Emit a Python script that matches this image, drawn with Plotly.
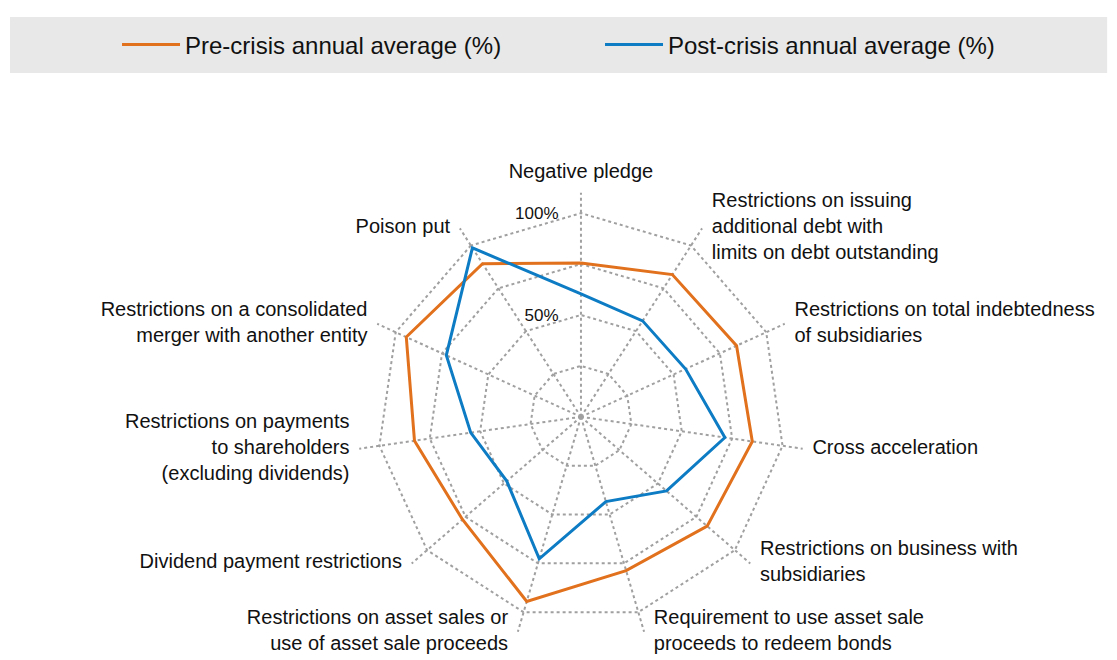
import plotly.graph_objects as go

categories = [
    'Negative pledge',
    'Restrictions on issuing additional debt with limits on debt outstanding',
    'Restrictions on total indebtedness of subsidiaries',
    'Cross acceleration',
    'Restrictions on business with subsidiaries',
    'Requirement to use asset sale proceeds to redeem bonds',
    'Restrictions on asset sales or use of asset sale proceeds',
    'Dividend payment restrictions',
    'Restrictions on payments to shareholders (excluding dividends)',
    'Restrictions on a consolidated merger with another entity',
    'Poison put',
]

tick_labels = [
    'Negative pledge',
    'Restrictions on issuing<br>additional debt with<br>limits on debt outstanding',
    'Restrictions on total indebtedness<br>of subsidiaries',
    'Cross acceleration',
    'Restrictions on business with<br>subsidiaries',
    'Requirement to use asset sale<br>proceeds to redeem bonds',
    'Restrictions on asset sales or<br>use of asset sale proceeds',
    'Dividend payment restrictions',
    'Restrictions on payments<br>to shareholders<br>(excluding dividends)',
    'Restrictions on a consolidated<br>merger with another entity',
    'Poison put',
]

pre_crisis = [75.5, 83, 84, 85, 82, 78.7, 94.5, 77, 82.6, 94.3, 89.4]
post_crisis = [60.4, 56, 56.5, 71.4, 55.6, 43.4, 72.7, 48.2, 54.7, 72.7, 98.6]

radial_ticks = [25, 50, 75, 100]
radial_labels = ['', '50%', '', '100%']

ORANGE = '#E2711D'
BLUE = '#0E7CC4'
GRID = '#A0A0A0'
FONT = 'Liberation Sans, Arial, sans-serif'
R_MAX = 110

# where each category label sits relative to its spoke end
label_positions = [
    'top center', 'middle right', 'middle right', 'middle right',
    'middle right', 'middle right', 'middle left', 'middle left',
    'middle left', 'middle left', 'middle left',
]

fig = go.Figure()

# close the polygons by repeating the first point
fig.add_trace(go.Scatterpolar(
    r=pre_crisis + pre_crisis[:1],
    theta=categories + categories[:1],
    mode='lines',
    name='Pre-crisis annual average (%)',
    line=dict(color=ORANGE, width=3),
))
fig.add_trace(go.Scatterpolar(
    r=post_crisis + post_crisis[:1],
    theta=categories + categories[:1],
    mode='lines',
    name='Post-crisis annual average (%)',
    line=dict(color=BLUE, width=3),
))

# category labels at the ends of the spokes (invisible markers only pad the text)
fig.add_trace(go.Scatterpolar(
    r=[R_MAX] * len(categories),
    theta=categories,
    mode='markers+text',
    text=tick_labels,
    textposition=label_positions,
    textfont=dict(family=FONT, size=20, color='#111111'),
    marker=dict(size=14, color='rgba(0,0,0,0)'),
    cliponaxis=False,
    showlegend=False,
    hoverinfo='skip',
))

fig.update_layout(
    width=1117,
    height=660,
    margin=dict(l=0, r=0, t=0, b=0),
    paper_bgcolor='white',
    plot_bgcolor='white',
    font=dict(family=FONT, size=20, color='#111111'),
    showlegend=True,
    legend=dict(
        orientation='h',
        x=0.0976, xanchor='left',
        y=0.944, yanchor='middle',
        bgcolor='rgba(0,0,0,0)',
        font=dict(size=24),
        itemwidth=58,
        entrywidth=410,
    ),
    # grey band behind the legend
    shapes=[dict(
        type='rect', xref='paper', yref='paper',
        x0=0.0018, x1=0.984, y0=0.9015, y1=0.9864,
        fillcolor='#E8E8E8', line=dict(width=0), layer='below',
    )],
    polar=dict(
        domain=dict(x=[0.3124, 0.7135], y=[0.0412, 0.7200]),
        bgcolor='white',
        gridshape='linear',
        radialaxis=dict(
            range=[0, R_MAX],
            angle=90,
            tickangle=90,
            tickmode='array',
            tickvals=radial_ticks,
            ticktext=radial_labels,
            showline=False,
            ticks='outside',
            ticklen=16,
            tickcolor='rgba(0,0,0,0)',
            side='counterclockwise',
            gridcolor=GRID,
            griddash='dot',
            gridwidth=1.5,
            tickfont=dict(size=17),
        ),
        angularaxis=dict(
            direction='clockwise',
            rotation=90,
            showticklabels=False,
            showline=False,
            ticks='',
            gridcolor=GRID,
            griddash='dot',
            gridwidth=1.5,
        ),
    ),
)

fig.write_html('out.html')
